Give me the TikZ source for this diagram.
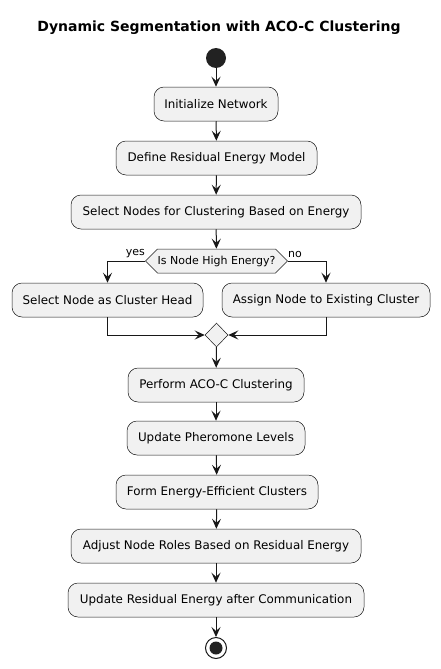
\documentclass[tikz,border=0pt]{standalone}
\usepackage{fontspec}
\setmainfont{DejaVu Sans}
\usetikzlibrary{arrows.meta,shapes.symbols,shapes.geometric}
\definecolor{boxfill}{HTML}{F1F1F1}
\definecolor{boxline}{HTML}{181818}
\definecolor{dot}{HTML}{222222}
\tikzset{
  act/.style={draw=boxline, line width=0.5pt, fill=boxfill, rounded corners=10pt,
    minimum height=34pt, inner xsep=0pt, font=\fontsize{11.9}{14}\selectfont},
  flow/.style={draw=boxline, line width=1pt, -{Stealth[length=10pt,width=9pt,inset=4pt]}},
  lbl/.style={font=\fontsize{11}{13}\selectfont, inner sep=0pt},
}
\begin{document}
\begin{tikzpicture}[x=1pt,y=-1pt]
\useasboundingbox (0,0) rectangle (440,669);
\node[font=\bfseries\fontsize{14}{16}\selectfont] (title) at (219,28) {Dynamic Segmentation with ACO-C Clustering};
\node[circle, fill=dot, minimum size=20pt, inner sep=0pt] (start) at (216,58) {};
\node[act, minimum width=124pt] (init) at (216,104) {Initialize Network};
\node[act, minimum width=201pt] (def) at (216.5,158) {Define Residual Energy Model};
\node[act, minimum width=290pt] (sel) at (216,212) {Select Nodes for Clustering Based on Energy};
\node[signal, signal to=east and west, signal pointer angle=90, draw=boxline, line width=0.5pt, fill=boxfill,
  minimum height=24pt, minimum width=141pt, inner sep=0pt, font=\fontsize{11}{13}\selectfont] (dec) at (216.5,261) {Is Node High Energy?};
\node[act, minimum width=191pt] (head) at (107.5,300) {Select Node as Cluster Head};
\node[act, minimum width=208pt] (assign) at (326,300) {Assign Node to Existing Cluster};
\node[diamond, draw=boxline, line width=0.5pt, fill=boxfill, minimum width=23pt, minimum height=24pt, inner sep=0pt] (merge) at (216.5,335) {};
\node[act, minimum width=176pt] (aco) at (216,385) {Perform ACO-C Clustering};
\node[act, minimum width=178pt] (pher) at (216,438) {Update Pheromone Levels};
\node[act, minimum width=202pt] (form) at (217,492) {Form Energy-Efficient Clusters};
\node[act, minimum width=290pt] (adj) at (216,546) {Adjust Node Roles Based on Residual Energy};
\node[act, minimum width=296pt] (upd) at (216,600) {Update Residual Energy after Communication};
\node[circle, draw=boxline, line width=1pt, fill=white, minimum size=21pt, inner sep=0pt] (stop) at (216,648) {};
\node[circle, fill=dot, minimum size=13pt, inner sep=0pt] (stopin) at (216,648) {};
\node[lbl, anchor=south east] (yes) at (145,258) {yes};
\node[lbl, anchor=south west] (no) at (288,258) {no};
\draw[flow] (start) -- (init);
\draw[flow] (init) -- (def);
\draw[flow] (def) -- (sel);
\draw[flow] (sel) -- (dec);
\draw[flow] (dec.west) -| (head.north);
\draw[flow] (dec.east) -| (assign.north);
\draw[flow] (head.south) |- (merge.west);
\draw[flow] (assign.south) |- (merge.east);
\draw[flow] (merge) -- (aco);
\draw[flow] (aco) -- (pher);
\draw[flow] (pher) -- (form);
\draw[flow] (form) -- (adj);
\draw[flow] (adj) -- (upd);
\draw[flow] (upd) -- (stop);
\end{tikzpicture}
\end{document}
